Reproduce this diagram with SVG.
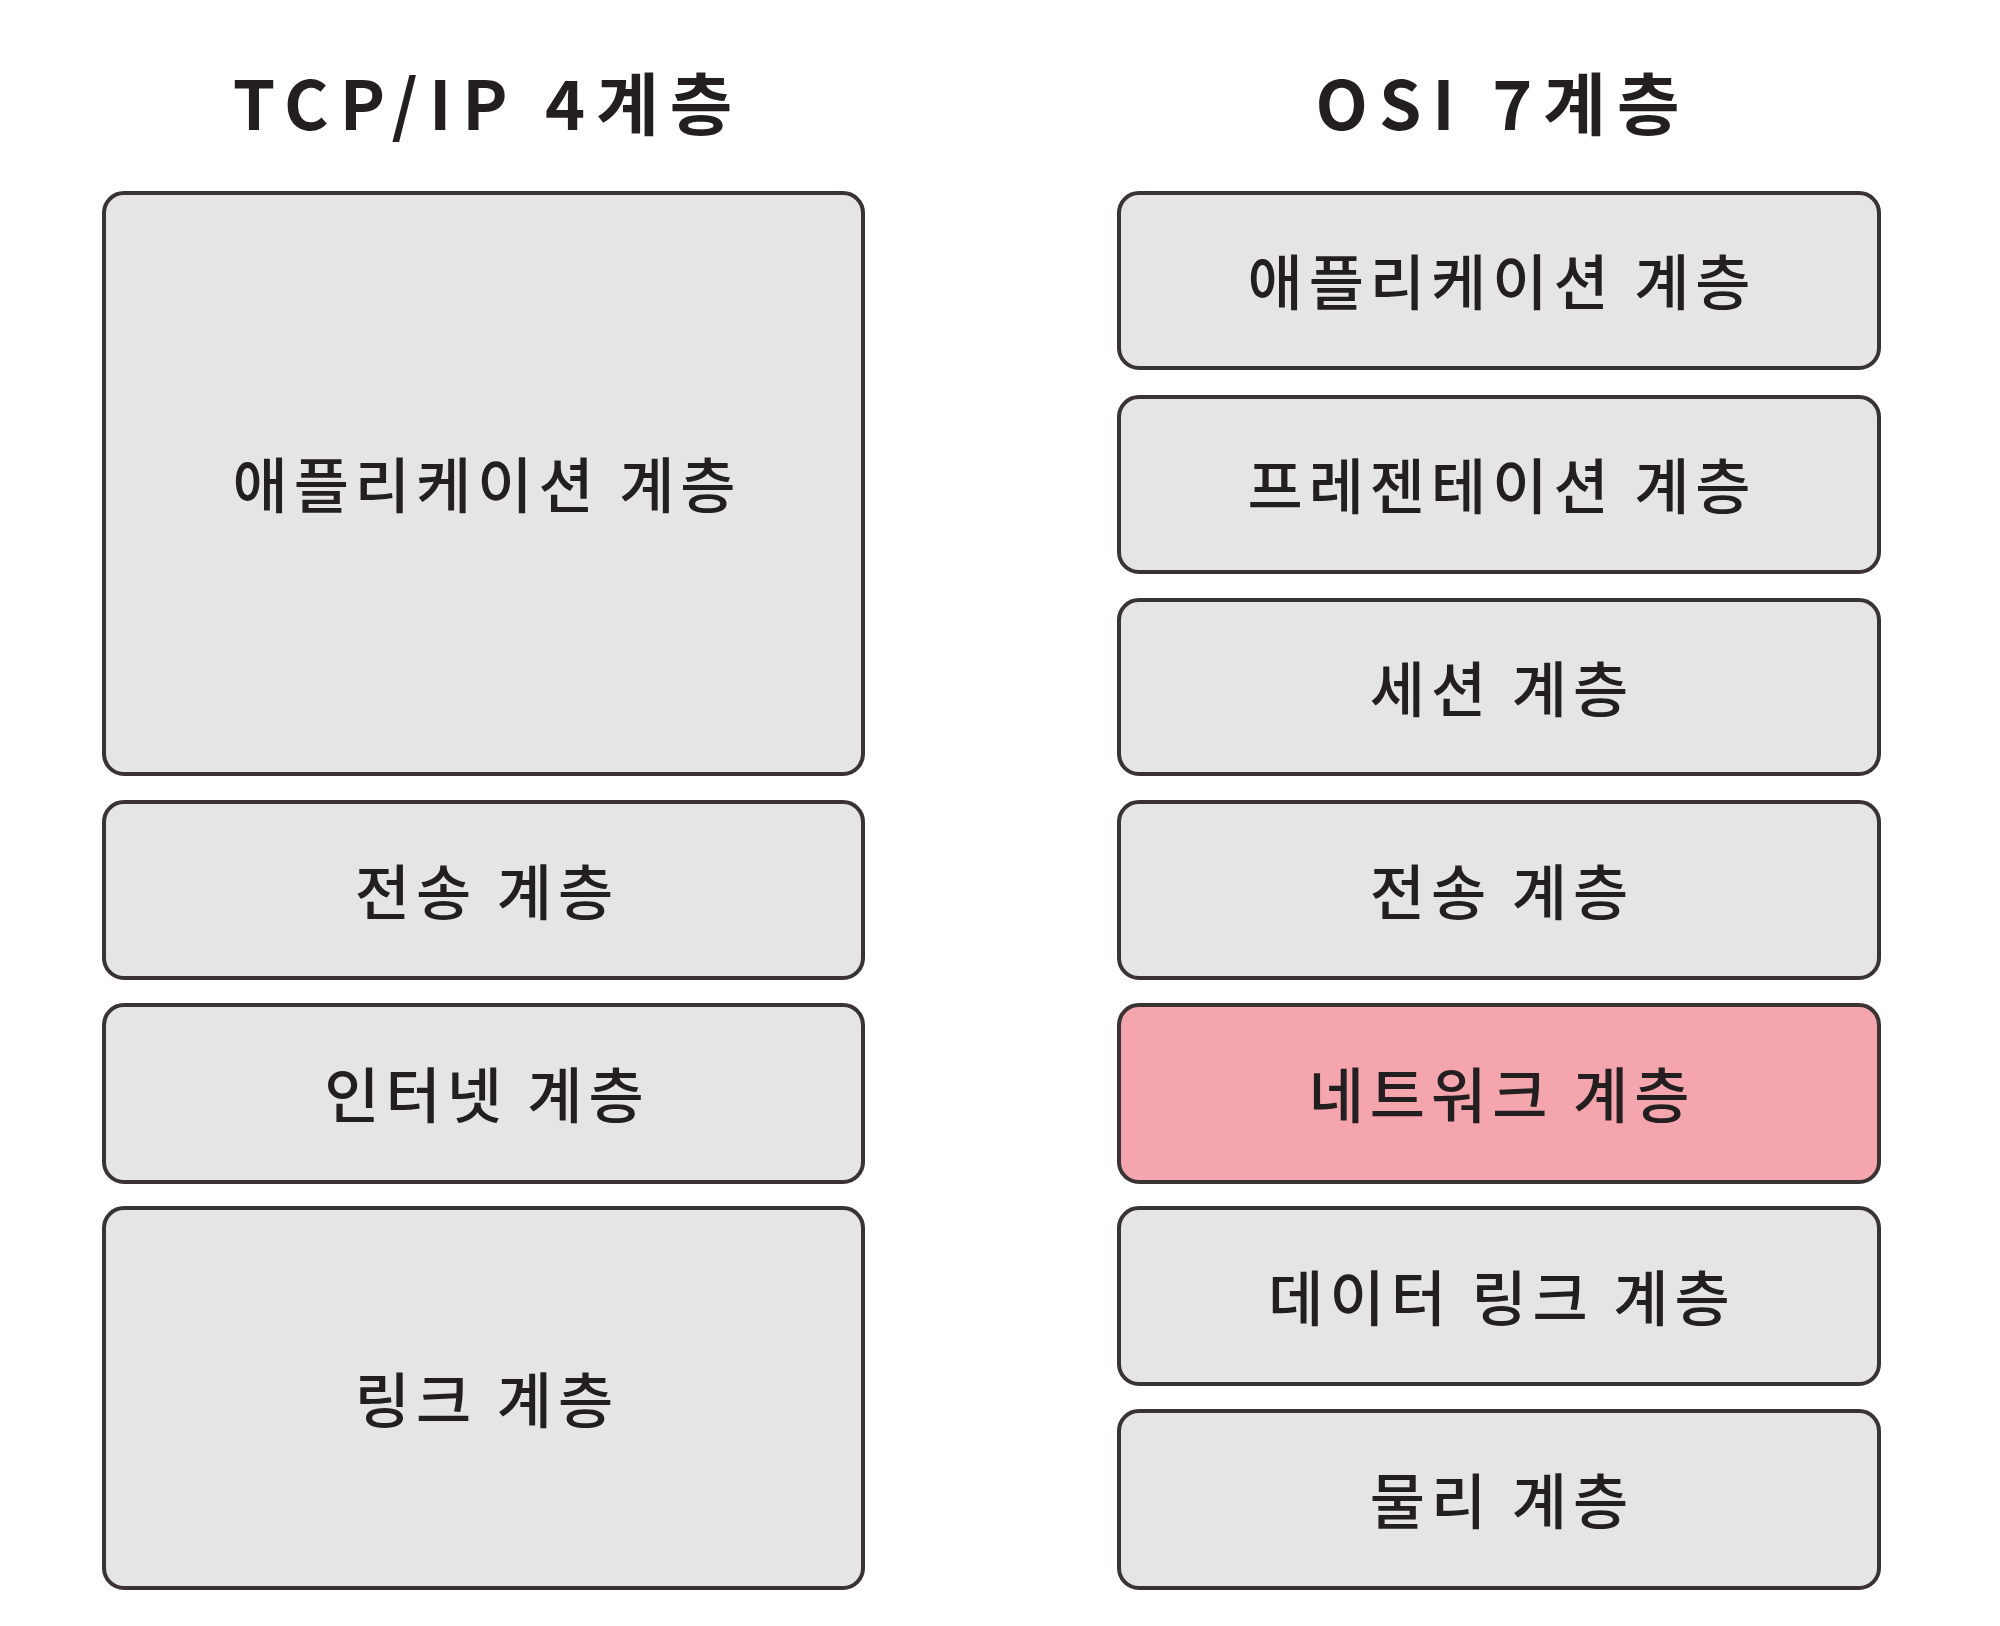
<svg xmlns="http://www.w3.org/2000/svg" width="2000" height="1626" viewBox="0 0 2000 1626">
<style>
.box{fill:#e5e5e5;stroke:#3a3333;stroke-width:4}
.hl{fill:#f5a5ae}
.lbl{font-family:"Noto Sans CJK KR","Noto Sans",sans-serif;font-size:60px;font-weight:500;fill:#231f20;text-anchor:middle;dominant-baseline:central;letter-spacing:6px}
.ttl{font-family:"Noto Sans CJK KR","Noto Sans",sans-serif;font-size:68px;font-weight:700;fill:#231f20;text-anchor:middle;dominant-baseline:central;letter-spacing:11px}
</style>
<rect width="2000" height="1626" fill="#ffffff"/>
<text class="ttl" x="488" y="100">TCP/IP 4계층</text>
<text class="ttl" x="1503" y="100">OSI 7계층</text>
<g id="tcp-app"><rect class="box" x="104" y="193" width="759" height="581" rx="20"/><text class="lbl" x="487" y="481">애플리케이션 계층</text></g>
<g id="tcp-transport"><rect class="box" x="104" y="802" width="759" height="176" rx="20"/><text class="lbl" x="487" y="888">전송 계층</text></g>
<g id="tcp-internet"><rect class="box" x="104" y="1005" width="759" height="177" rx="20"/><text class="lbl" x="487" y="1091">인터넷 계층</text></g>
<g id="tcp-link"><rect class="box" x="104" y="1208" width="759" height="380" rx="20"/><text class="lbl" x="487" y="1396">링크 계층</text></g>
<g id="osi-app"><rect class="box" x="1119" y="193" width="760" height="175" rx="20"/><text class="lbl" x="1502" y="278">애플리케이션 계층</text></g>
<g id="osi-pres"><rect class="box" x="1119" y="397" width="760" height="175" rx="20"/><text class="lbl" x="1502" y="482">프레젠테이션 계층</text></g>
<g id="osi-session"><rect class="box" x="1119" y="600" width="760" height="174" rx="20"/><text class="lbl" x="1502" y="685">세션 계층</text></g>
<g id="osi-transport"><rect class="box" x="1119" y="802" width="760" height="176" rx="20"/><text class="lbl" x="1502" y="888">전송 계층</text></g>
<g id="osi-network"><rect class="box hl" x="1119" y="1005" width="760" height="177" rx="20"/><text class="lbl" x="1502" y="1091">네트워크 계층</text></g>
<g id="osi-datalink"><rect class="box" x="1119" y="1208" width="760" height="176" rx="20"/><text class="lbl" x="1502" y="1294">데이터 링크 계층</text></g>
<g id="osi-physical"><rect class="box" x="1119" y="1411" width="760" height="177" rx="20"/><text class="lbl" x="1502" y="1497">물리 계층</text></g>
<g id="connectors"></g>
</svg>
